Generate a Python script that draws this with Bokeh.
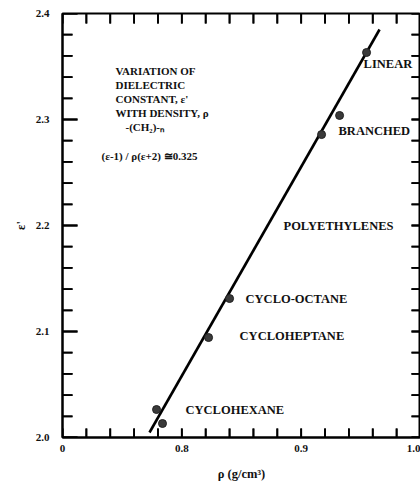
from bokeh.plotting import figure
from bokeh.models import FixedTicker, Range1d, ColumnDataSource
from bokeh.core.properties import value
from bokeh.embed import file_html
from bokeh.resources import INLINE

# ---- data ----
point_rho = [0.9548, 0.9322, 0.9171, 0.8400, 0.8224, 0.7788, 0.7838]
point_eps = [2.3632, 2.3038, 2.2858, 2.1311, 2.0943, 2.0264, 2.0132]

fit_rho = [0.7729, 0.9657]
fit_eps = [2.0047, 2.3849]

x_major_ticks = [0.7, 0.8, 0.9, 1.0]
x_tick_labels = {0.7: "0", 0.8: "0.8", 0.9: "0.9", 1.0: "1.0"}
y_major_ticks = [2.0, 2.1, 2.2, 2.3, 2.4]
y_tick_labels = {2.0: "2.0", 2.1: "2.1", 2.2: "2.2", 2.3: "2.3", 2.4: "2.4"}
minor_x = [0.72, 0.74, 0.76, 0.78, 0.82, 0.84, 0.86, 0.88, 0.92, 0.94, 0.96, 0.98]
minor_y = [2.02, 2.04, 2.06, 2.08, 2.12, 2.14, 2.16, 2.18, 2.22, 2.24, 2.26, 2.28,
           2.32, 2.34, 2.36, 2.38]

label_text = ["LINEAR", "BRANCHED", "POLYETHYLENES", "CYCLO-OCTANE",
              "CYCLOHEPTANE", "CYCLOHEXANE"]
label_x = [0.9523, 0.9313, 0.8852, 0.8534, 0.8484, 0.8031]
label_y = [2.3519, 2.2896, 2.2000, 2.1302, 2.0962, 2.0255]

block_text = ["VARIATION OF", "DIELECTRIC", "CONSTANT, \u03b5'", "WITH DENSITY, \u03c1",
              "-(CH\u2082)-\u2099", "(\u03b5-1) / \u03c1(\u03b5+2) \u22450.325"]
block_x = [0.7444, 0.7444, 0.7444, 0.7444, 0.7528, 0.7327]
block_y = [2.3462, 2.3330, 2.3198, 2.3057, 2.2925, 2.2660]

FONT = "Liberation Serif"
X0, X1 = 0.7, 1.0
Y0, Y1 = 2.0, 2.4
FW, FH = 358, 424

p = figure(frame_width=FW, frame_height=FH, output_backend="svg",
           toolbar_location=None, x_range=Range1d(X0, X1), y_range=Range1d(Y0, Y1),
           min_border_left=62, min_border_right=0, min_border_top=13, min_border_bottom=46)
p.outline_line_color = "black"
p.outline_line_width = 2
p.xgrid.grid_line_color = None
p.ygrid.grid_line_color = None

# inward ticks drawn as thin filled bars; sizes given in pixels, converted to data units
dx = (X1 - X0) / FW
dy = (Y1 - Y0) / FH
W = 1.8  # tick thickness, px
all_x = sorted(x_major_ticks + minor_x)
all_y = sorted(y_major_ticks + minor_y)

L_, R_, B_, T_ = [], [], [], []
xs_, ys_ = [], []
for x in all_x:                              # bottom (9 px) and top (10 px)
    L_ += [x - W / 2 * dx, x - W / 2 * dx]
    R_ += [x + W / 2 * dx, x + W / 2 * dx]
    B_ += [Y0, Y1 - 10 * dy]
    T_ += [Y0 + 9 * dy, Y1]
    xs_ += [[x, x], [x, x]]
    ys_ += [[Y0, Y0 + 9 * dy], [Y1 - 10 * dy, Y1]]
for y in all_y:                              # left (15/10 px) and right (9 px)
    ln = 15 if y in y_major_ticks else 10
    L_ += [X0, X1 - 9 * dx]
    R_ += [X0 + ln * dx, X1]
    B_ += [y - W / 2 * dy, y - W / 2 * dy]
    T_ += [y + W / 2 * dy, y + W / 2 * dy]
    xs_ += [[X0, X0 + ln * dx], [X1 - 9 * dx, X1]]
    ys_ += [[y, y], [y, y]]

p.quad(left="l", right="r", bottom="b", top="t", fill_color="black", line_color=None,
       source=ColumnDataSource(dict(l=L_, r=R_, b=B_, t=T_)))
p.multi_line(xs="xs", ys="ys", line_color="black", line_width=W,
             source=ColumnDataSource(dict(xs=xs_, ys=ys_)))

p.line(fit_rho, fit_eps, line_color="black", line_width=2.6)
p.scatter(point_rho, point_eps, size=8, fill_color="#3a3a3a", line_color="#222222")

def style_axis(ax):
    ax.axis_line_color = "black"
    ax.axis_line_width = 2
    ax.major_tick_line_color = None
    ax.minor_tick_line_color = None
    ax.major_tick_out = 0
    ax.minor_tick_out = 0
    ax.major_tick_in = 0
    ax.minor_tick_in = 0
    ax.major_label_text_font = FONT
    ax.major_label_text_font_style = "bold"
    ax.major_label_text_font_size = "11px"
    ax.major_label_text_color = "#111111"
    ax.axis_label_text_font = FONT
    ax.axis_label_text_font_style = "bold"
    ax.axis_label_text_font_size = "12.5px"
    ax.axis_label_text_color = "#111111"

xb = p.xaxis[0]
xb.ticker = FixedTicker(ticks=x_major_ticks)
xb.major_label_overrides = x_tick_labels
xb.axis_label = "\u03c1 (g/cm\u00b3)"
style_axis(xb)
xb.major_label_standoff = 7
xb.axis_label_standoff = 12

yl = p.yaxis[0]
yl.ticker = FixedTicker(ticks=y_major_ticks)
yl.major_label_overrides = y_tick_labels
yl.axis_label = "\u03b5'"
style_axis(yl)
yl.major_label_standoff = 13
yl.axis_label_standoff = 5

src = ColumnDataSource(dict(x=label_x, y=label_y, t=label_text))
p.text("x", "y", text="t", source=src, text_font=value(FONT), text_font_style="bold",
       text_font_size="12.5px", text_color="#111111", text_baseline="middle", text_align="left")

bsrc = ColumnDataSource(dict(x=block_x, y=block_y, t=block_text))
p.text("x", "y", text="t", source=bsrc, text_font=value(FONT), text_font_style="bold",
       text_font_size="11px", text_color="#111111", text_baseline="middle", text_align="left")

open("out.html", "w").write(file_html(p, INLINE))
